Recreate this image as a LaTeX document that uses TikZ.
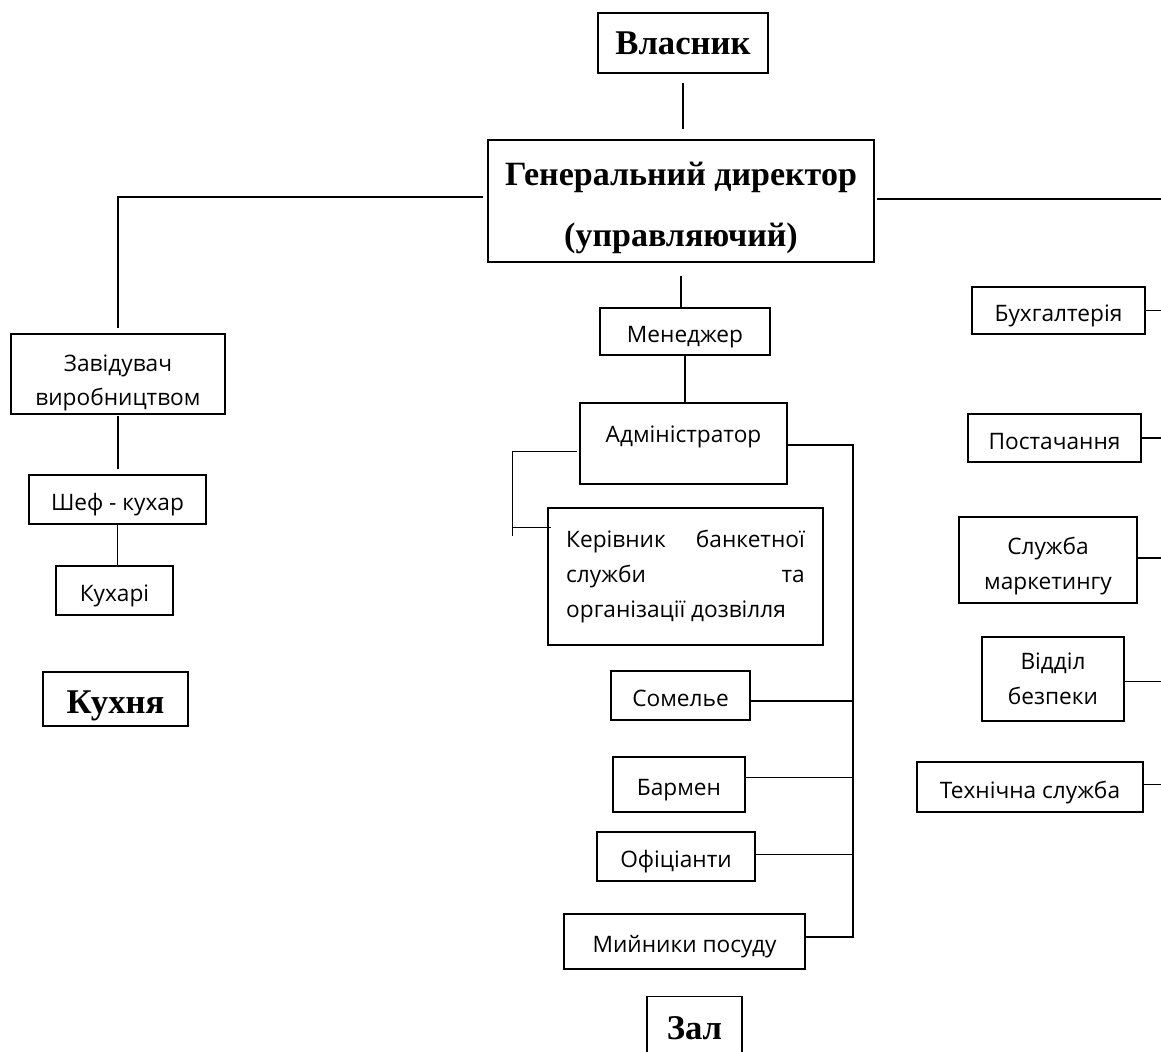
\documentclass[tikz,border=0pt]{standalone}
\usepackage{fontspec}
\setmainfont{Liberation Serif}
\newfontfamily\postfont{Open Sans}
\usetikzlibrary{positioning}
\newcommand{\lowered}[1]{\raisebox{-5pt}[\height][\depth]{#1}}
\tikzstyle{post}=[draw,line width=1pt,inner sep=1pt,align=center,text height=17pt,text depth=0pt,font=\postfont\fontsize{17}{26}\selectfont]
\tikzstyle{twoline}=[text height=,text depth=]
\tikzstyle{unit}=[draw,line width=1pt,inner sep=1pt,align=center,font=\bfseries\fontsize{26}{46}\selectfont]
\tikzstyle{link}=[line width=1pt]

\begin{document}
\begin{tikzpicture}[x=0.75pt,y=-0.75pt]
	\useasboundingbox (0,0) rectangle (1161,1052);
	\clip (0,0) rectangle (1161,1052);
	\coordinate (redge) at (1161,0);
	\coordinate (bus) at (853,0);

	\node[unit,minimum width=127.5pt,minimum height=45pt] (owner) at (683,43) {Власник};
	\node[unit,minimum width=289.5pt,minimum height=91.5pt,font=\bfseries\fontsize{25.5}{46}\selectfont] (ceo) at (681,201) {\lowered{Генеральний директор}\\\lowered{(управляючий)}};

	% kitchen
	\node[post,twoline,minimum width=160.5pt,minimum height=60pt] (chief) at (118,374) {\rule{0pt}{26pt}Завідувач\\виробництвом};
	\node[post,minimum width=132.75pt,minimum height=36.75pt] (chef) at (117.5,499.5) {Шеф - кухар};
	\node[post,minimum width=87.75pt,minimum height=36.75pt] (cooks) at (114.5,590.5) {Кухарі};
	\node[unit,minimum width=108.75pt,minimum height=40.5pt] (kitchen) at (115.5,699) {\lowered{Кухня}};

	% hall
	\node[post,minimum width=127.5pt,minimum height=35.25pt] (manager) at (685,331.5) {Менеджер};
	\node[post,minimum width=155.25pt,minimum height=60.75pt,text depth=19pt] (admin) at (683.5,443.5) {Адміністратор};
	\node[post,twoline,minimum width=206.25pt,minimum height=102.75pt,text width=179pt,align=justify] (banquet) at (685.5,576.5) {Керівник банкетної\linebreak служби та\linebreak організації дозвілля};
	\node[post,minimum width=104.25pt,minimum height=36.75pt] (sommelier) at (680.5,695.5) {Сомелье};
	\node[post,minimum width=99pt,minimum height=41.25pt] (barman) at (679,784.5) {Бармен};
	\node[post,minimum width=118.5pt,minimum height=36.75pt] (waiters) at (676,856.5) {Офіціанти};
	\node[post,minimum width=180.75pt,minimum height=41.25pt] (washers) at (684.5,941.5) {Мийники посуду};
	\node[unit,minimum width=71.25pt,minimum height=48pt,anchor=north] (hall) at (694.5,996) {Зал};

	% services
	\node[post,minimum width=129.75pt,minimum height=35.25pt] (accounts) at (1058.5,310.5) {Бухгалтерія};
	\node[post,minimum width=129.75pt,minimum height=36pt] (supply) at (1054.5,438) {Постачання};
	\node[post,twoline,minimum width=133.5pt,minimum height=64.5pt] (marketing) at (1048,560) {\rule{0pt}{22pt}Служба\\маркетингу};
	\node[post,twoline,minimum width=106.5pt,minimum height=63pt] (security) at (1053,679) {Відділ\\безпеки};
	\node[post,minimum width=169.5pt,minimum height=37.5pt] (tech) at (1030,787) {Технічна служба};

	\draw[link,shorten <=7pt,shorten >=8pt] (owner.south) -- (owner.south |- ceo.north);
	\draw[link,shorten <=3pt,shorten >=4pt] ([yshift=3pt]ceo.west) -| (chief.north);
	\draw[link,shorten <=2pt] ([yshift=1.5pt]ceo.east) -- ([yshift=1.5pt]ceo.east -| redge);
	\draw[link,shorten <=10pt] (ceo.south) -- (ceo.south |- manager.north);
	\draw[link] (manager.south) -- (manager.south |- admin.north);

	\draw[link,shorten <=1pt,shorten >=4pt] (chief.south) -- (chief.south |- chef.north);
	\draw[link] (chef.south) -- (chef.south |- cooks.north);

	\draw[link] ([xshift=-2pt,yshift=-6pt]admin.west) -| ([xshift=-26.25pt,yshift=-21.75pt]banquet.north west);
	\draw[link] ([xshift=-26.25pt,yshift=-15pt]banquet.north west) -- ([xshift=3pt,yshift=-15pt]banquet.north west);
	\draw[link] ([yshift=-1pt]admin.east) -| ([yshift=3.5pt]bus |- washers.east) -- ([yshift=3.5pt]washers.east);
	\foreach \n/\d in {sommelier/-4pt,barman/5.5pt,waiters/1.5pt}
		\draw[link] ([yshift=\d]\n.east) -- ([yshift=\d]\n.east -| bus);

	\foreach \n/\d in {accounts/0pt,supply/0pt,marketing/1.5pt,security/-2pt,tech/2pt}
		\draw[link] ([yshift=\d]\n.east) -- ([yshift=\d]\n.east -| redge);
\end{tikzpicture}
\end{document}
